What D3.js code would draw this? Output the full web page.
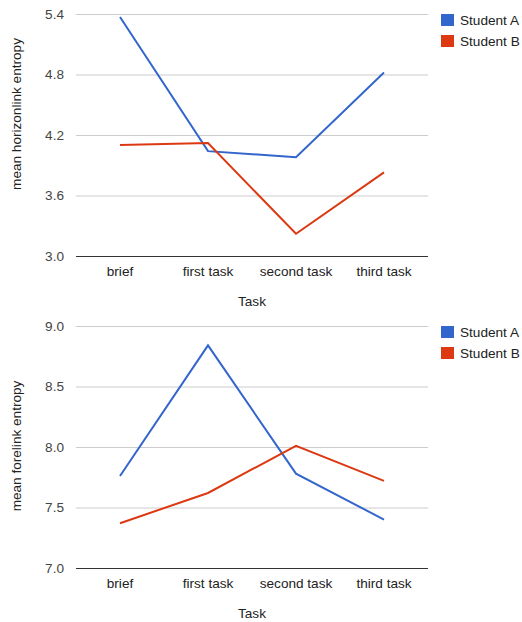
<!DOCTYPE html>
<html><head><meta charset="utf-8">
<script src="https://cdn.jsdelivr.net/npm/d3@7"></script>
<style>body{margin:0;background:#fff;font-family:Arial,"Liberation Sans",sans-serif;}</style>
</head><body><svg id="c" width="522" height="622"></svg>
<script>
const categories = ["brief", "first task", "second task", "third task"];
const seriesNames = ["Student A", "Student B"];
const horizonA = [5.37, 4.04, 3.98, 4.82];
const horizonB = [4.10, 4.12, 3.22, 3.83];
const forelinkA = [7.76, 8.84, 7.78, 7.40];
const forelinkB = [7.37, 7.62, 8.01, 7.72];
const horizonTicks = [3.0, 3.6, 4.2, 4.8, 5.4];
const forelinkTicks = [7.0, 7.5, 8.0, 8.5, 9.0];
const colors = ["#3366cc", "#dc3912"];

const svg = d3.select("#c");
const FS = "13.6px";
const FF = "Arial, 'Liberation Sans', sans-serif";

function panel(top, yTitle, titleCenter, ticks, seriesA, seriesB) {
  const left = 76, right = 428, plotTop = top, plotBottom = top + 242;
  const g = svg.append("g").style("font-family", FF);
  const x = d3.scaleBand().domain(categories).range([left, right]).padding(0);
  const y = d3.scaleLinear().domain([ticks[0], ticks[ticks.length - 1]]).range([plotBottom, plotTop]);

  const yAxis = d3.axisLeft(y).tickValues(ticks).tickFormat(d3.format(".1f")).tickSize(-(right - left)).tickPadding(12);
  const ya = g.append("g").attr("transform", `translate(${left},0)`).call(yAxis);
  ya.select(".domain").remove();
  ya.selectAll(".tick line").attr("stroke", "#cccccc").attr("stroke-width", 1);
  ya.selectAll(".tick text").attr("fill", "#444").style("font-size", FS).style("font-family", FF);
  ya.selectAll(".tick").filter(d => d === ticks[0]).select("line").attr("stroke", "#333");

  const xAxis = d3.axisBottom(x).tickSize(0).tickPadding(10);
  const xa = g.append("g").attr("transform", `translate(0,${plotBottom})`).call(xAxis);
  xa.select(".domain").remove();
  xa.selectAll(".tick text").attr("fill", "#222").style("font-size", FS).style("font-family", FF);

  const line = d3.line().x((d, i) => x(categories[i]) + x.bandwidth() / 2).y(d => y(d));
  [seriesA, seriesB].forEach((s, k) => {
    g.append("path").datum(s).attr("d", line).attr("fill", "none")
      .attr("stroke", colors[k]).attr("stroke-width", 2);
  });

  g.append("text").attr("x", (left + right) / 2).attr("y", plotBottom + 50)
    .attr("text-anchor", "middle").attr("fill", "#222").style("font-size", FS).text("Task");
  g.append("text").attr("transform", `translate(21,${titleCenter}) rotate(-90)`)
    .attr("text-anchor", "middle").attr("fill", "#222").style("font-size", FS).text(yTitle);

  const lg = g.append("g").attr("transform", `translate(441,${top})`);
  seriesNames.forEach((n, k) => {
    lg.append("rect").attr("x", 0).attr("y", k * 21).attr("width", 13).attr("height", 12).attr("fill", colors[k]);
    lg.append("text").attr("x", 19).attr("y", k * 21 + 11).attr("fill", "#222").style("font-size", FS).text(n);
  });
}

panel(14, "mean horizonlink entropy", 114, horizonTicks, horizonA, horizonB);
panel(326, "mean forelink entropy", 446, forelinkTicks, forelinkA, forelinkB);
</script></body></html>
